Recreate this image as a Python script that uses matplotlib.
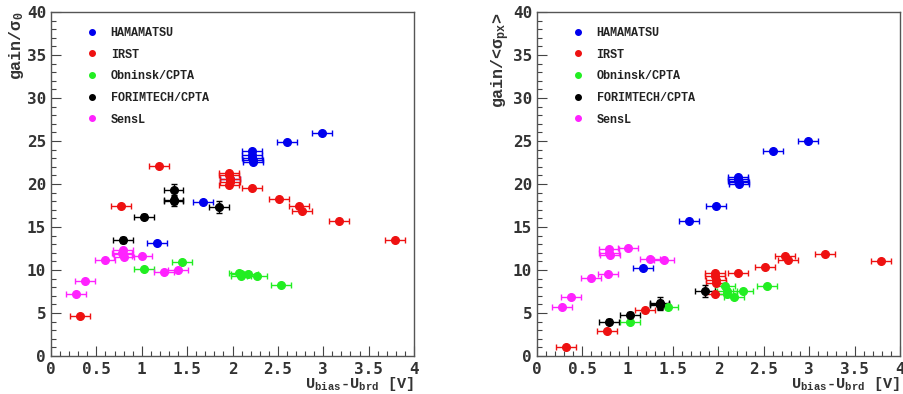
import numpy as np
import matplotlib.pyplot as plt
from matplotlib.ticker import MultipleLocator

plt.rcParams['font.family'] = 'DejaVu Sans'
plt.rcParams['mathtext.fontset'] = 'custom'
plt.rcParams['mathtext.rm'] = 'Liberation Mono:bold'
plt.rcParams['mathtext.it'] = 'Liberation Mono:bold'
plt.rcParams['mathtext.bf'] = 'Liberation Mono:bold'
plt.rcParams['mathtext.default'] = 'rm'

# ----------- DATA ------------
ham_x = [1.17, 1.67, 1.97, 2.21, 2.22, 2.22, 2.23, 2.23, 2.60, 2.99]
ham_y0 = [13.2, 17.9, 20.6, 23.8, 23.4, 23.0, 22.8, 22.6, 24.9, 25.9]
ham_ypx = [10.2, 15.7, 17.4, 20.8, 20.6, 20.4, 20.2, 20.0, 23.8, 25.0]

irst_x = [0.32, 0.77, 1.19, 1.96, 1.96, 1.97, 1.97, 1.96, 2.21, 2.51, 2.73, 2.77, 3.17, 3.79]
irst_y0 = [4.6, 17.5, 22.1, 21.3, 21.0, 20.6, 20.2, 19.9, 19.5, 18.3, 17.5, 16.9, 15.7, 13.5]
irst_ypx = [1.1, 2.9, 5.4, 9.6, 9.3, 8.8, 8.5, 7.2, 9.6, 10.4, 11.6, 11.2, 11.9, 11.1]

obn_x = [1.02, 1.44, 2.07, 2.09, 2.09, 2.17, 2.27, 2.53]
obn_y0 = [10.1, 10.9, 9.6, 9.3, 9.5, 9.5, 9.3, 8.3]
obn_ypx = [4.0, 5.7, 8.1, 7.6, 7.2, 6.9, 7.6, 8.1]

for_x = [0.79, 1.02, 1.35, 1.35, 1.35, 1.85]
for_y0 = [13.5, 16.2, 19.3, 18.2, 18.0, 17.3]
for_ypx = [4.0, 4.8, 6.2, 6.0, 5.9, 7.6]
for_yerr = [0.3, 0.3, 0.7, 0.5, 0.5, 0.7]

sens_x = [0.28, 0.37, 0.59, 0.78, 0.79, 0.79, 0.80, 1.00, 1.25, 1.40]
sens_y0 = [7.2, 8.7, 11.2, 12.0, 12.3, 11.9, 11.5, 11.6, 9.8, 10.0]
sens_ypx = [5.7, 6.9, 9.1, 9.5, 12.4, 12.0, 11.7, 12.6, 11.3, 11.2]

labels = ['HAMAMATSU', 'IRST', 'Obninsk/CPTA', 'FORIMTECH/CPTA', 'SensL']
colors = ['#0000ee', '#ee1111', '#22ee22', 'black', '#ff22ff']
XERR = 0.11

# ----------- PLOT ------------
fig = plt.figure(figsize=(9.04, 3.94), dpi=100)
ax1 = fig.add_axes([0.0564, 0.0964, 0.4016, 0.873])
ax2 = fig.add_axes([0.594, 0.0964, 0.4016, 0.873])


def draw(ax, ys, ylabel):
    xs = [ham_x, irst_x, obn_x, for_x, sens_x]
    handles = []
    for i in range(5):
        yerr = for_yerr if i == 3 else None
        ax.errorbar(xs[i], ys[i], xerr=XERR, yerr=yerr, fmt='o', color=colors[i],
                    ms=5.5, elinewidth=1, capsize=2, capthick=1)
        h, = ax.plot([], [], 'o', color=colors[i], ms=4)
        handles.append(h)

    ax.set_xlim(0, 4)
    ax.set_ylim(0, 40)
    ax.xaxis.set_minor_locator(MultipleLocator(0.1))
    ax.yaxis.set_major_locator(MultipleLocator(5))
    ax.yaxis.set_minor_locator(MultipleLocator(1))
    ax.set_xticks(np.arange(0, 4.01, 0.5))
    ax.set_xticklabels(['0', '0.5', '1', '1.5', '2', '2.5', '3', '3.5', '4'])
    ax.tick_params(which='both', direction='in', top=False, right=False,
                   labelsize=11.5, width=0.8, color='#444444')
    ax.tick_params(which='major', length=7)
    ax.tick_params(which='minor', length=3.5)
    ax.tick_params(axis='x', pad=4)
    for lab in ax.get_xticklabels() + ax.get_yticklabels():
        lab.set_fontweight('bold')
        lab.set_family('DejaVu Sans Mono')
        lab.set_color('#333333')
    for sp in ax.spines.values():
        sp.set_color('#555555')
        sp.set_linewidth(1)

    ax.set_ylabel(ylabel, fontsize=12, fontweight='bold', color='#333333',
                  family='Liberation Mono')
    ax.yaxis.set_label_coords(-0.07, 1.0)
    ax.yaxis.label.set_ha('right')
    ax.set_xlabel(r'U$_{bias}$-U$_{brd}$ [V]', fontsize=11,
                  fontweight='bold', color='#333333', family='Liberation Mono')
    ax.xaxis.set_label_coords(1.0, -0.055)
    ax.xaxis.label.set_ha('right')
    ax.xaxis.label.set_va('top')

    leg = ax.legend(handles, labels, loc='upper left', bbox_to_anchor=(0.096, 0.957),
                    frameon=False, handlelength=1.0, handletextpad=1.1,
                    labelspacing=0.82, borderpad=0, borderaxespad=0,
                    prop={'family': 'Liberation Mono', 'size': 8.5, 'weight': 'bold'})
    for t in leg.get_texts():
        t.set_color('#222222')


draw(ax1, [ham_y0, irst_y0, obn_y0, for_y0, sens_y0], r'gain/$\sigma_0$')
draw(ax2, [ham_ypx, irst_ypx, obn_ypx, for_ypx, sens_ypx], r'gain/<$\sigma_{px}$>')

fig.savefig('out.png', dpi=100)
